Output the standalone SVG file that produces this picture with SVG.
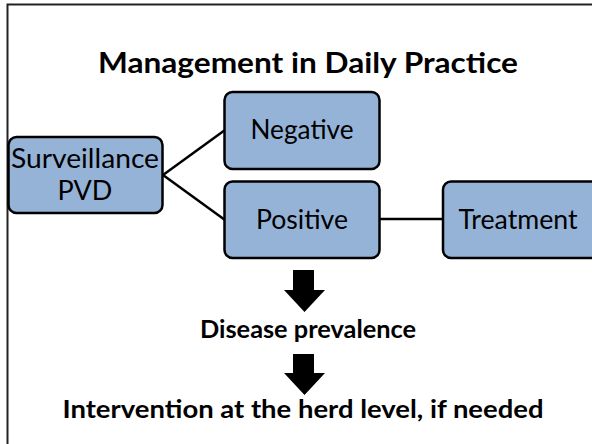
<svg xmlns="http://www.w3.org/2000/svg" width="592" height="444" viewBox="0 0 592 444">
  <style>
    .box { fill: #95B3D7; stroke: #000; stroke-width: 2.5; }
    .lbl { font-family: Lato, "Open Sans", sans-serif; font-size: 27px; fill: #000; text-anchor: middle; }
    .hd { font-family: Lato, "Open Sans", sans-serif; font-weight: bold; fill: #000; text-anchor: middle; }
    .link { stroke: #000; stroke-width: 2.5; fill: none; }
    .arrow { fill: #000; }
  </style>
  <rect width="592" height="444" fill="#fff"/>
  <!-- slide frame (top and left edges) -->
  <path d="M7.5 444 V4.5 H592" fill="none" stroke="#222" stroke-width="2"/>

  <text class="hd" x="308" y="73" font-size="28" textLength="420" lengthAdjust="spacingAndGlyphs">Management in Daily Practice</text>

  <g id="connectors">
    <line class="link" x1="163" y1="175" x2="225" y2="130"/>
    <line class="link" x1="163" y1="175" x2="225" y2="220"/>
    <line class="link" x1="380" y1="219" x2="443" y2="219"/>
  </g>

  <g id="surveillance">
    <rect class="box" x="8.5" y="137" width="154" height="76" rx="8"/>
    <text class="lbl" x="85" y="168" textLength="148" lengthAdjust="spacingAndGlyphs">Surveillance</text>
    <text class="lbl" x="85" y="200">PVD</text>
  </g>
  <g id="negative">
    <rect class="box" x="224.5" y="92" width="155" height="77" rx="8"/>
    <text class="lbl" x="302" y="139" textLength="103" lengthAdjust="spacingAndGlyphs">Negative</text>
  </g>
  <g id="positive">
    <rect class="box" x="224.5" y="181.5" width="155" height="76.5" rx="8"/>
    <text class="lbl" x="302" y="229" textLength="92" lengthAdjust="spacingAndGlyphs">Positive</text>
  </g>
  <g id="treatment">
    <rect class="box" x="443" y="181.5" width="160" height="76.5" rx="8"/>
    <text class="lbl" x="518" y="229" textLength="119" lengthAdjust="spacingAndGlyphs">Treatment</text>
  </g>

  <g id="arrow1">
    <path class="arrow" d="M293 270 H314 V290 H325 L304.5 312 L284 290 H293 Z"/>
  </g>
  <text class="hd" x="308" y="338" font-size="24" textLength="216" lengthAdjust="spacingAndGlyphs">Disease prevalence</text>
  <g id="arrow2">
    <path class="arrow" d="M293 354 H314 V373 H325 L304.5 395 L284 373 H293 Z"/>
  </g>
  <text class="hd" x="303" y="418" font-size="24" textLength="481" lengthAdjust="spacingAndGlyphs">Intervention at the herd level, if needed</text>
</svg>
